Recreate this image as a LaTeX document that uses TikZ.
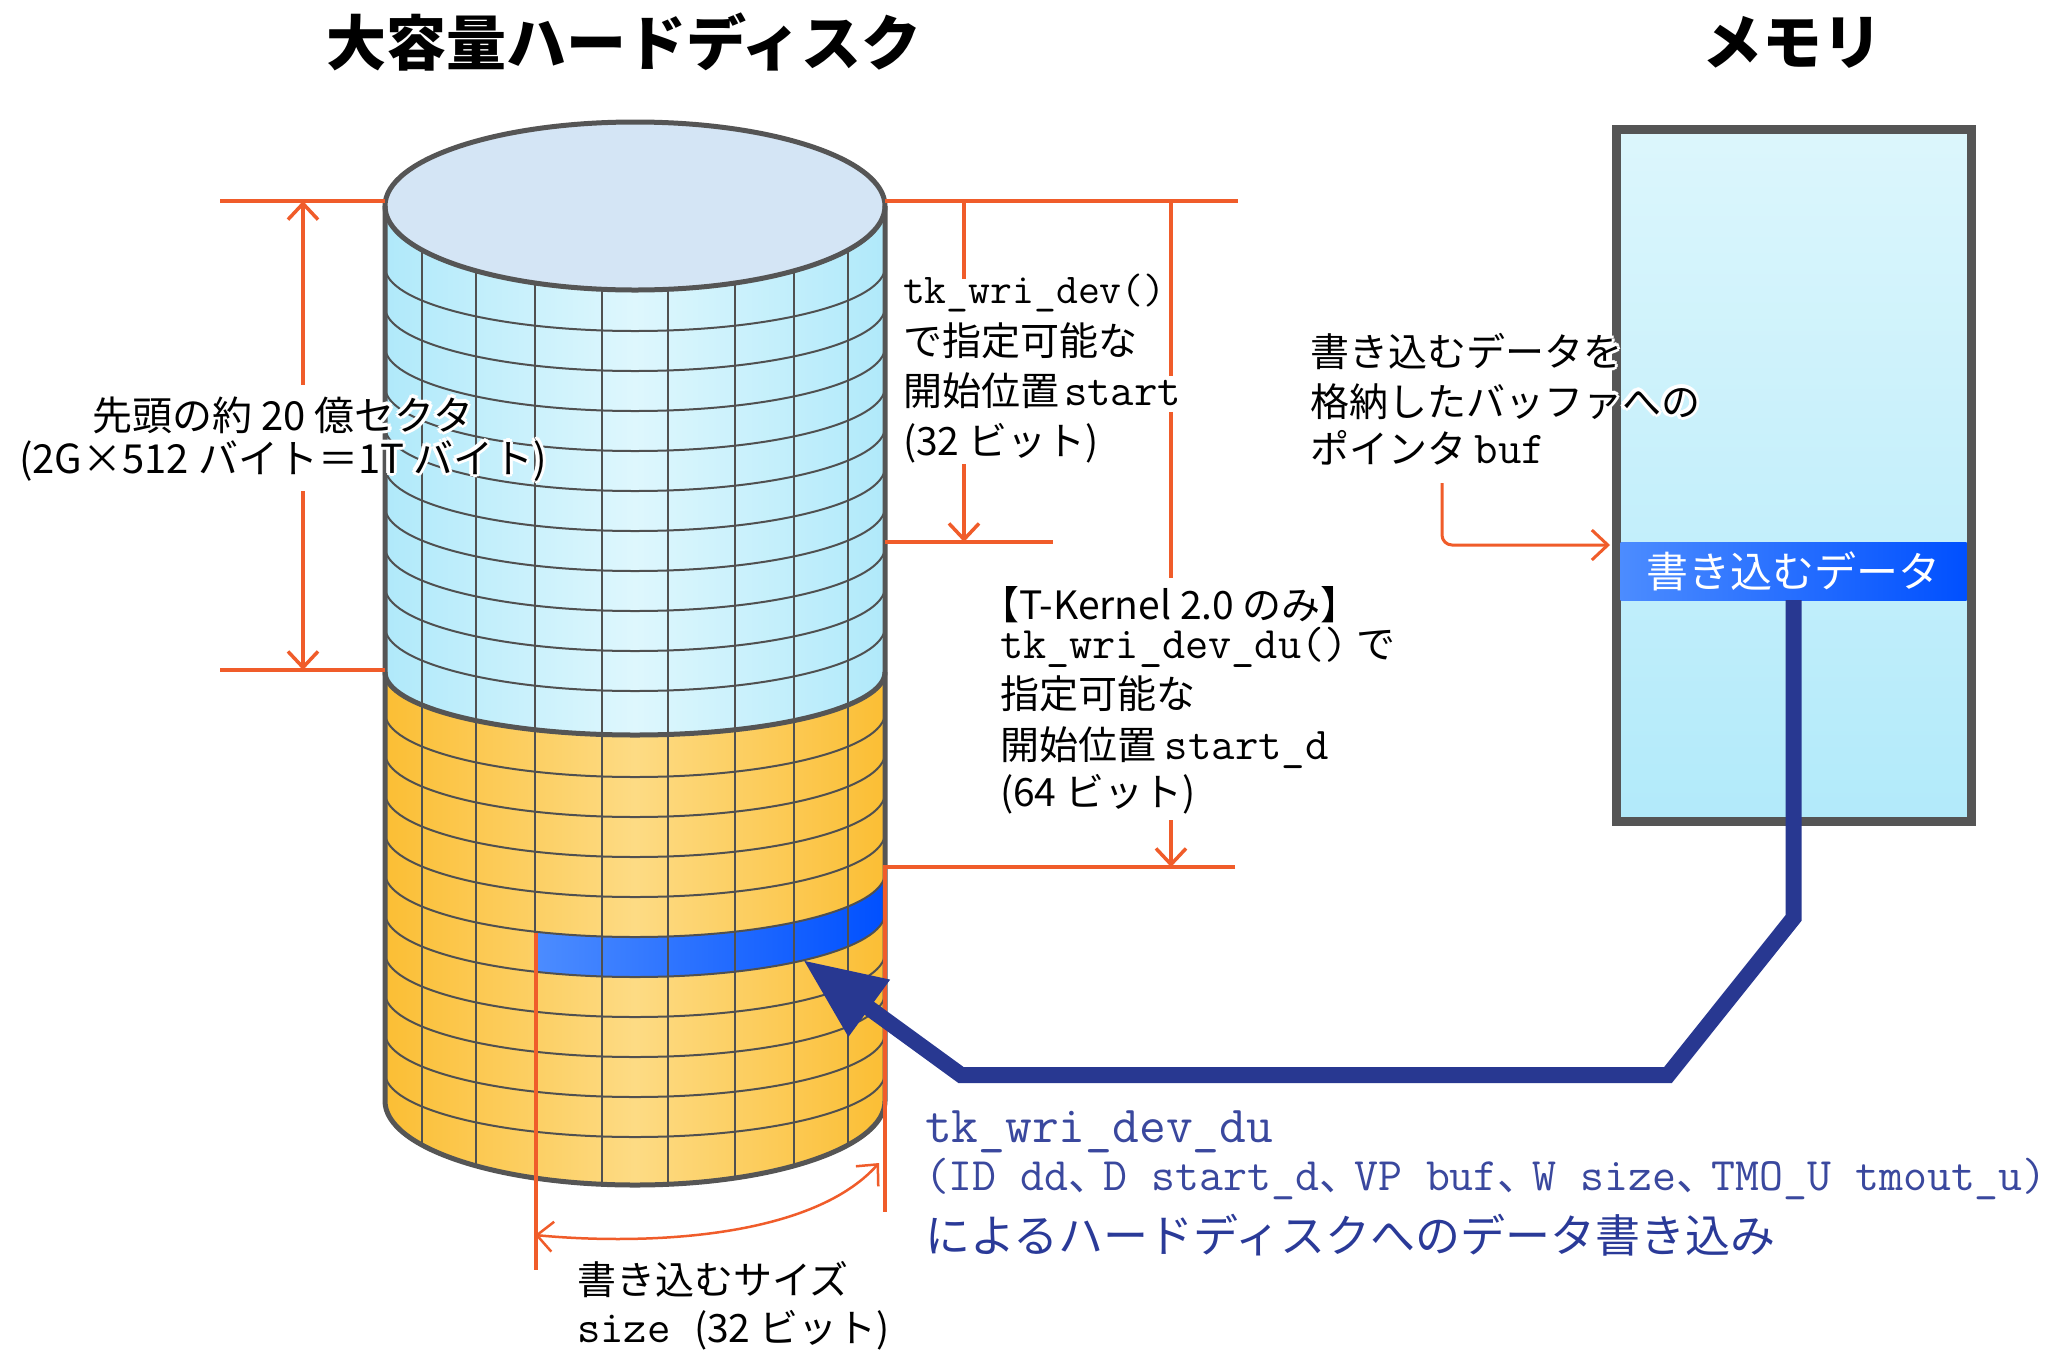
\documentclass[tikz,border=0pt]{standalone}
\usepackage{fontspec}
\setmainfont{Noto Sans CJK JP}
\newfontfamily\jphalt{Noto Sans CJK JP}[RawFeature=+halt]
\usetikzlibrary{arrows.meta}
\definecolor{dimorange}{RGB}{240,92,42}
\definecolor{outl}{RGB}{85,85,85}
\definecolor{gridc}{RGB}{80,80,80}
\definecolor{cylBedge}{RGB}{176,233,250}
\definecolor{cylBmid}{RGB}{222,247,253}
\definecolor{cylOedge}{RGB}{251,190,52}
\definecolor{cylOmid}{RGB}{253,219,132}
\definecolor{topfill}{RGB}{212,229,245}
\definecolor{bandL}{RGB}{76,140,255}
\definecolor{bandR}{RGB}{0,80,255}
\definecolor{navy}{RGB}{40,56,145}
\definecolor{memTop}{RGB}{220,246,252}
\definecolor{memBot}{RGB}{178,234,250}
\definecolor{bluemono}{RGB}{58,72,158}
\definecolor{bluejp}{RGB}{42,58,152}
\newcommand\fsz[1]{\fontsize{#1pt}{#1pt}\selectfont}
\newcommand\hcopy[3]{\rlap{\hskip#1\raisebox{#2}{\color{white}#3}}}
\newcommand\halo[1]{\leavevmode\hbox{\hcopy{3.5pt}{0pt}{#1}\hcopy{-3.5pt}{0pt}{#1}\hcopy{0pt}{3.5pt}{#1}\hcopy{0pt}{-3.5pt}{#1}\hcopy{2.5pt}{2.5pt}{#1}\hcopy{-2.5pt}{2.5pt}{#1}\hcopy{2.5pt}{-2.5pt}{#1}\hcopy{-2.5pt}{-2.5pt}{#1}#1}}
\newcommand\tc{\makebox[35pt][l]{\rmfamily\fsz{42}、}}
\tikzset{
  dimline/.style={draw=dimorange, line width=3.5pt},
  gridline/.style={draw=gridc, line width=2pt},
  cylout/.style={draw=outl, line width=5pt},
  txt/.style={inner sep=0pt, outer sep=0pt, anchor=base west, font=\fsz{39}},
  navyline/.style={draw=navy, line width=16pt, line join=miter, -{Triangle[length=82pt,width=66pt]}},
}
\begin{document}
\begin{tikzpicture}[x=1pt,y=-1pt,>={Straight Barb[length=16pt,width=30pt]}]
\useasboundingbox (0,0) rectangle (2056,1350);
\fill[white] (0,0) rectangle (2056,1350);

% ---------------- cylinder ----------------
\path[left color=cylBedge,right color=cylBedge,middle color=cylBmid]
  (385,206) -- (385,672) arc[start angle=180,end angle=0,x radius=250,y radius=63] -- (885,206) -- cycle;
\path[left color=cylOedge,right color=cylOedge,middle color=cylOmid]
  (385,672) arc[start angle=180,end angle=0,x radius=250,y radius=63]
  -- (885,1101) arc[start angle=0,end angle=180,x radius=250,y radius=84] -- cycle;
% written block
\path[left color=bandL,right color=bandR]
  (535,931.66) arc[start angle=113.58,end angle=0,x radius=250,y radius=64]
  -- (885,913) arc[start angle=0,end angle=113.58,x radius=250,y radius=64] -- cycle;
% grid
\foreach \d in {-213,-159,-100,-33,33,100,159,213}
  \draw[gridline] ({635+\d},{206+84*sqrt(1-(\d/250)^2)}) -- ++(0,895);
\foreach \c in {331,371,411,451,491,531,571,611,651,691,777,817,857,897,937,977,1017,1057,1097,1137}
  \draw[gridline] (385,{\c-64}) arc[start angle=180,end angle=0,x radius=250,y radius=64];
\draw[cylout] (385,672) arc[start angle=180,end angle=0,x radius=250,y radius=63];
\draw[cylout,fill=topfill] (635,206) ellipse[x radius=250,y radius=84];
\draw[cylout] (385,206) -- (385,1101) arc[start angle=180,end angle=0,x radius=250,y radius=84] -- (885,206);

% ---------------- dimension lines ----------------
\draw[dimline] (220,201) -- (385,201);
\draw[dimline] (220,670) -- (385,670);
\draw[dimline,<-] (303,201) -- (303,385);
\draw[dimline,->] (303,491) -- (303,670);
\draw[dimline] (885,201) -- (1238,201);
\draw[dimline] (964,201) -- (964,279);
\draw[dimline,->] (964,464) -- (964,542);
\draw[dimline] (885,542) -- (1053,542);
\draw[dimline] (1171,201) -- (1171,376);
\draw[dimline] (1171,412) -- (1171,578);
\draw[dimline,->] (1171,820) -- (1171,867);
\draw[dimline] (1235,867) -- (885,867) -- (885,1212);
\draw[dimline] (536,933) -- (536,1270);
\draw[dimline,line width=2.5pt,<->] (535,1235) .. controls (640,1245) and (810,1240) .. (879,1163);

% ---------------- memory ----------------
\node[name=mem, anchor=north west, minimum width=355pt, minimum height=692pt, inner sep=0pt, outer sep=0pt,
      top color=memTop, bottom color=memBot, draw=outl, line width=9pt] at (1616,129) {};
\node[name=band, anchor=north west, minimum width=346pt, minimum height=58pt, inner sep=0pt, outer sep=0pt,
      left color=bandL, right color=bandR, text=white, font=\fsz{42}] at (1620.5,542) {書き込むデータ};
\coordinate (wtip) at (803,960);
\draw[navyline] (band.south) -- ++(0,318) -- (1668,1075) -- (961,1075) -- (wtip);
\coordinate (ptrstart) at (1442,483);
\coordinate (ptrend) at (1610,545);
\draw[dimline,line width=3pt,rounded corners=10pt,->] (ptrstart) -- (ptrstart |- ptrend) -- (ptrend);

% ---------------- texts ----------------
\node[name=t1, inner sep=0pt, font=\fsz{60}\bfseries] at (624,42) {大容量ハードディスク};
\node[name=t2, inner sep=0pt, font=\fsz{60}\bfseries] at (1792,42) {メモリ};

\node[txt, name=l1, anchor=base, font=\fsz{40}] at (283,430) {\halo{先頭の約 20 億セクタ}};
\node[txt, name=l2, anchor=base, font=\fsz{40}] at (283,473) {\halo{(2G×512 バイト＝1T バイト)}};

\node[txt, name=a1] at (903,303) {\ttfamily\fsz{42.5}tk\_wri\_dev()};
\node[txt, name=a2] at (903,355) {で指定可能な};
\node[txt, name=a3] at (903,405) {開始位置\hspace{5pt}{\ttfamily\fsz{45.5}start}};
\node[txt, name=a4] at (903,455) {(32 ビット)};

\node[txt, name=b1] at (1000,619) {{\jphalt 【}T-Kernel 2.0 のみ{\jphalt 】}};
\node[txt, name=b2] at (1000,658) {{\ttfamily\fsz{45}tk\_wri\_dev\_du()} で};
\node[txt, name=b3] at (1000,708) {指定可能な};
\node[txt, name=b4] at (1000,759) {開始位置 {\ttfamily\fsz{45.5}start\_d}};
\node[txt, name=b5] at (1000,806) {(64 ビット)};

\node[txt, name=c1] at (1310,366) {\halo{書き込むデータを}};
\node[txt, name=c2] at (1310,416) {\halo{格納したバッファへの}};
\node[txt, name=c3] at (1310,463) {ポインタ {\ttfamily\fsz{45.5}buf}};

\node[txt, name=d1, text=bluemono] at (925,1142) {\ttfamily\fsz{52}tk\_wri\_dev\_du};
\node[txt, name=d2, text=bluemono] at (925,1190) {\ttfamily\fsz{46.5}(ID dd\tc D start\_d\tc VP buf\tc W size\tc TMO\_U tmout\_u)};
\node[txt, name=d3, text=bluejp, font=\fsz{45}] at (925,1252) {によるハードディスクへのデータ書き込み};

\node[txt, name=e1] at (577,1294) {書き込むサイズ};
\node[txt, name=e2] at (577,1342) {{\ttfamily\fsz{45.5}size }(32 ビット)};
\end{tikzpicture}
\end{document}
